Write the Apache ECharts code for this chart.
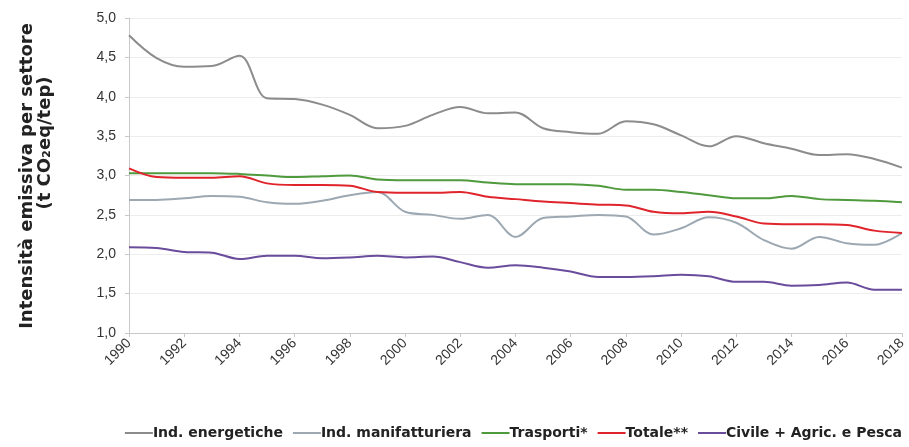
<!DOCTYPE html>
<html>
<head>
<meta charset="utf-8">
<script src="https://cdn.jsdelivr.net/npm/echarts@6/dist/echarts.min.js"></script>
<style>
  html, body { margin: 0; padding: 0; background: #fff; }
  #chart { width: 909px; height: 447px; }
</style>
</head>
<body>
<div id="chart"></div>
<script>
// anni
const years = ['1990','1991','1992','1993','1994','1995','1996','1997','1998','1999',
  '2000','2001','2002','2003','2004','2005','2006','2007','2008','2009',
  '2010','2011','2012','2013','2014','2015','2016','2017','2018']

const indEnergetiche = [4.78, 4.49, 4.38, 4.39, 4.52, 3.98, 3.97, 3.90, 3.77, 3.60,
  3.63, 3.77, 3.87, 3.79, 3.80, 3.60, 3.55, 3.53, 3.69, 3.65,
  3.51, 3.37, 3.50, 3.41, 3.34, 3.26, 3.27, 3.21, 3.10]

const indManifatturiera = [2.69, 2.69, 2.71, 2.74, 2.73, 2.66, 2.64, 2.68, 2.75, 2.79,
  2.54, 2.50, 2.45, 2.50, 2.22, 2.46, 2.48, 2.50, 2.48, 2.25,
  2.33, 2.47, 2.40, 2.18, 2.07, 2.22, 2.14, 2.12, 2.27]

const trasporti = [3.03, 3.03, 3.03, 3.03, 3.02, 3.00, 2.98, 2.99, 3.00, 2.95,
  2.94, 2.94, 2.94, 2.91, 2.89, 2.89, 2.89, 2.87, 2.82, 2.82,
  2.79, 2.75, 2.71, 2.71, 2.74, 2.70, 2.69, 2.68, 2.66]

const totale = [3.09, 2.98, 2.97, 2.97, 2.99, 2.90, 2.88, 2.88, 2.87, 2.79,
  2.78, 2.78, 2.79, 2.73, 2.70, 2.67, 2.65, 2.63, 2.62, 2.54,
  2.52, 2.54, 2.48, 2.39, 2.38, 2.38, 2.37, 2.30, 2.27]

const civile = [2.09, 2.08, 2.03, 2.02, 1.94, 1.98, 1.98, 1.95, 1.96, 1.98,
  1.96, 1.97, 1.90, 1.83, 1.86, 1.83, 1.78, 1.71, 1.71, 1.72,
  1.74, 1.72, 1.65, 1.65, 1.60, 1.61, 1.64, 1.55, 1.55]

const colorArr = ['#8c8c8c', '#9ca8b2', '#4e9a3c', '#e0242b', '#6a4c9c']
const legendNames = ['Ind. energetiche', 'Ind. manifatturiera', 'Trasporti*', 'Totale**', 'Civile + Agric. e Pesca']

const chart = echarts.init(document.getElementById('chart'))

function makeSeries(name, data, color) {
  return {
    name: name,
    type: 'line',
    smooth: 0.35,
    symbol: 'none',
    lineStyle: { width: 2, color: color },
    itemStyle: { color: color },
    data: data
  }
}

chart.setOption({
  animation: false,
  color: colorArr,
  textStyle: { fontFamily: 'Liberation Sans, Arial, sans-serif' },
  grid: {
    left: 129,
    right: 2,
    top: 18,
    bottom: 114
  },
  // titolo asse y, due righe ruotate
  graphic: [
    {
      type: 'text',
      x: 27, y: 176,
      rotation: Math.PI / 2,
      style: {
        text: 'Intensità emissiva per settore',
        font: 'bold 18px "DejaVu Sans", sans-serif',
        fill: '#222',
        align: 'center',
        verticalAlign: 'middle'
      }
    },
    {
      type: 'text',
      x: 45, y: 143,
      rotation: Math.PI / 2,
      style: {
        text: '(t CO₂eq/tep)',
        font: 'bold 18px "DejaVu Sans", sans-serif',
        fill: '#222',
        align: 'center',
        verticalAlign: 'middle'
      }
    }
  ],
  legend: {
    right: 2,
    top: 421,
    icon: 'rect',
    itemWidth: 28,
    itemHeight: 2,
    itemGap: 10,
    textStyle: {
      fontSize: 14,
      fontWeight: 'bold',
      fontFamily: '"DejaVu Sans", sans-serif',
      color: '#222',
      padding: [0, 0, 0, -5]
    },
    data: legendNames
  },
  xAxis: {
    type: 'category',
    boundaryGap: false,
    data: years,
    axisLine: { lineStyle: { color: '#c8c8c8' } },
    axisTick: { interval: 1, length: 4, lineStyle: { color: '#c8c8c8' } },
    axisLabel: {
      interval: 1,
      rotate: 45,
      color: '#333',
      fontSize: 14,
      margin: 8
    },
    splitLine: { show: false }
  },
  yAxis: {
    type: 'value',
    min: 1,
    max: 5,
    interval: 0.5,
    axisLine: { show: true, lineStyle: { color: '#c8c8c8' } },
    axisTick: { show: true, length: 4, lineStyle: { color: '#c8c8c8' } },
    axisLabel: {
      color: '#333',
      fontSize: 14,
      margin: 13,
      formatter: function (v) { return v.toFixed(1).replace('.', ',') }
    },
    splitLine: { lineStyle: { color: '#ededed' } }
  },
  series: [
    makeSeries(legendNames[0], indEnergetiche, colorArr[0]),
    makeSeries(legendNames[1], indManifatturiera, colorArr[1]),
    makeSeries(legendNames[2], trasporti, colorArr[2]),
    makeSeries(legendNames[3], totale, colorArr[3]),
    makeSeries(legendNames[4], civile, colorArr[4])
  ]
})
</script>
</body>
</html>
